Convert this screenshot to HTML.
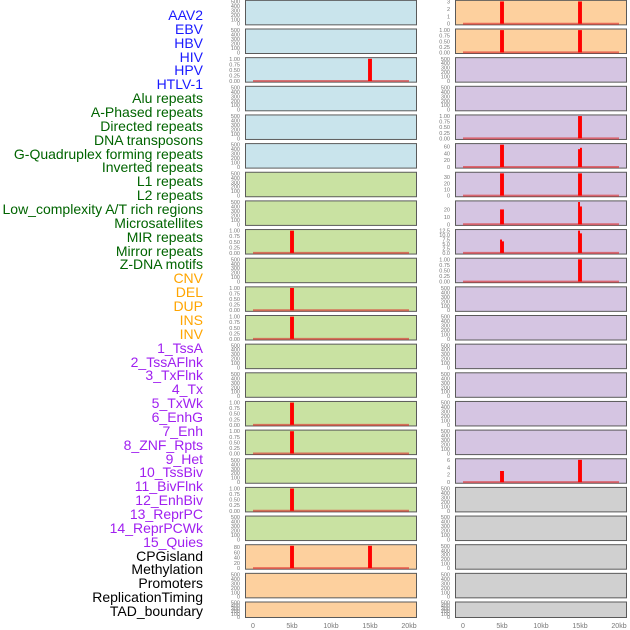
<!DOCTYPE html>
<html><head><meta charset="utf-8"><style>
html,body{margin:0;padding:0;background:#fff;width:630px;height:630px;overflow:hidden}
#lab{position:absolute;left:0;top:0;width:203px}
.l{position:absolute;right:0;font:14px "Liberation Sans",sans-serif;white-space:nowrap;line-height:14px}
svg{position:absolute;left:0;top:0}
</style></head><body>
<div id="lab"></div>
<svg id="ch" width="630" height="630"></svg>
<script>
const labels=["AAV2","EBV","HBV","HIV","HPV","HTLV-1","Alu repeats","A-Phased repeats","Directed repeats","DNA transposons","G-Quadruplex forming repeats","Inverted repeats","L1 repeats","L2 repeats","Low_complexity A/T rich regions","Microsatellites","MIR repeats","Mirror repeats","Z-DNA motifs","CNV","DEL","DUP","INS","INV","1_TssA","2_TssAFlnk","3_TxFlnk","4_Tx","5_TxWk","6_EnhG","7_Enh","8_ZNF_Rpts","9_Het","10_TssBiv","11_BivFlnk","12_EnhBiv","13_ReprPC","14_ReprPCWk","15_Quies","CPGisland","Methylation","Promoters","ReplicationTiming","TAD_boundary"];
const labelGroups=["v","v","v","v","v","v","r","r","r","r","r","r","r","r","r","r","r","r","r","s","s","s","s","s","c","c","c","c","c","c","c","c","c","c","c","c","c","c","c","o","o","o","o","o"];
const xTicks=[0,5,10,15,20];
const xTickLabels=["0","5kb","10kb","15kb","20kb"];
// bars: panel index (0-21 left column, 22-43 right), center kb, value
const barPanel=[2,8,10,11,14,15,17,19,19,22,22,23,23,26,27,27,27,27,28,28,29,29,29,30,30,30,30,31,38,38];
const barPos=[15,5,5,5,5,5,5,5,15,5,15,5,15,15,4.875,5.125,14.875,15.125,5,15,5,14.875,15.125,4.875,5.125,14.875,15.125,15,5,15];
const barVal=[1,1,1,1,1,1,1,85,85,3,3,1,1,1,65,65,52,56,36,36,20,30,24,7.5,6.5,12.5,11,1,3,6];
const barWidth=[0.5,0.5,0.5,0.5,0.5,0.5,0.5,0.5,0.5,0.5,0.5,0.5,0.5,0.5,0.25,0.25,0.25,0.25,0.5,0.5,0.5,0.25,0.25,0.25,0.25,0.25,0.25,0.5,0.5,0.5];
const tickPanels=[2,8,10,11,14,15,17,19,22,23,26,27,28,29,30,31,38];
const tickSets=[
["0.00","0.25","0.50","0.75","1.00"],["0.00","0.25","0.50","0.75","1.00"],["0.00","0.25","0.50","0.75","1.00"],["0.00","0.25","0.50","0.75","1.00"],["0.00","0.25","0.50","0.75","1.00"],["0.00","0.25","0.50","0.75","1.00"],["0.00","0.25","0.50","0.75","1.00"],
["0","20","40","60","80"],["0","1","2","3"],["0.00","0.25","0.50","0.75","1.00"],["0.00","0.25","0.50","0.75","1.00"],
["0","20","40","60"],["0","10","20","30"],["0","10","20"],["0.0","2.5","5.0","7.5","10.0","12.5"],["0.00","0.25","0.50","0.75","1.00"],["0","2","4","6"]];
const defaultTicks=["0","100","200","300","400","500"];

const fills={v:"#c9e4ec",r:"#c9e2a2",s:"#fdd09e",c:"#d5c5e2",o:"#d0d0d0"};
const textCols={v:"#1a1aff",r:"#006400",s:"#ffa500",c:"#a020f0",o:"#000"};

const lab=document.getElementById('lab');
labels.forEach((t,i)=>{const d=document.createElement('div');


d.className='l';d.style.top=(8+i*13.86)+'px';d.style.color=textCols[labelGroups[i]];d.textContent=t;lab.appendChild(d);});

const svg=document.getElementById('ch');const NS='http://www.w3.org/2000/svg';
function mk(tag,at,parent){const e=document.createElementNS(NS,tag);for(const k in at)e.setAttribute(k,at[k]);(parent||svg).appendChild(e);return e;}
const colX=[245,455];const PW=171;const PITCH=28.65;
function xScale(col,kb){return colX[col]+8+kb*7.8;}
for(let i=0;i<44;i++){
 const col=Math.floor(i/22),row=i%22;
 const top=0.35+row*PITCH;const h=row===21?15.5:24.5;
 const g=mk('g',{});
 
 
 mk('rect',{x:colX[col]+0.5,y:top,width:PW,height:h,fill:fills[labelGroups[i]],stroke:"#5a5a5a","stroke-width":1},g);
 const ti=tickPanels.indexOf(i);const ticks=ti>=0?tickSets[ti]:defaultTicks;
 const vmax=parseFloat(ticks[ticks.length-1]);
 let dmax=vmax;barPanel.forEach((p,k)=>{if(p===i)dmax=Math.max(dmax,barVal[k]);});
 const lo=-0.05*dmax,hi=1.05*dmax;
 const yS=v=>top+h-(v-lo)/(hi-lo)*h;
 ticks.forEach(t=>{const tx=mk('text',{x:colX[col]-5,y:yS(parseFloat(t))+2,"font-size":"5.5","font-family":"Liberation Sans, sans-serif",fill:"#777","text-anchor":"end"},g);
  
  
  tx.textContent=t;});
 if(ti>=0){const ln=mk('line',{x1:xScale(col,0),x2:xScale(col,20),y1:yS(0),y2:yS(0),stroke:"rgba(220,40,40,0.6)","stroke-width":2},g);
  
  }
 barPanel.forEach((p,k)=>{if(p!==i)return;
  const x0=xScale(col,barPos[k]-barWidth[k]/2),x1=xScale(col,barPos[k]+barWidth[k]/2);
  const b=mk('rect',{x:x0,y:yS(barVal[k]),width:x1-x0,height:yS(0)-yS(barVal[k]),fill:"#ff0000"},g);
  
  });
}
for(let col=0;col<2;col++){xTicks.forEach((v,k)=>{const t=mk('text',{x:xScale(col,v),y:628,"font-size":"7","font-family":"Liberation Sans, sans-serif",fill:"#777","text-anchor":"middle"});
 
 
 t.textContent=xTickLabels[k];});}
</script>
</body></html>
